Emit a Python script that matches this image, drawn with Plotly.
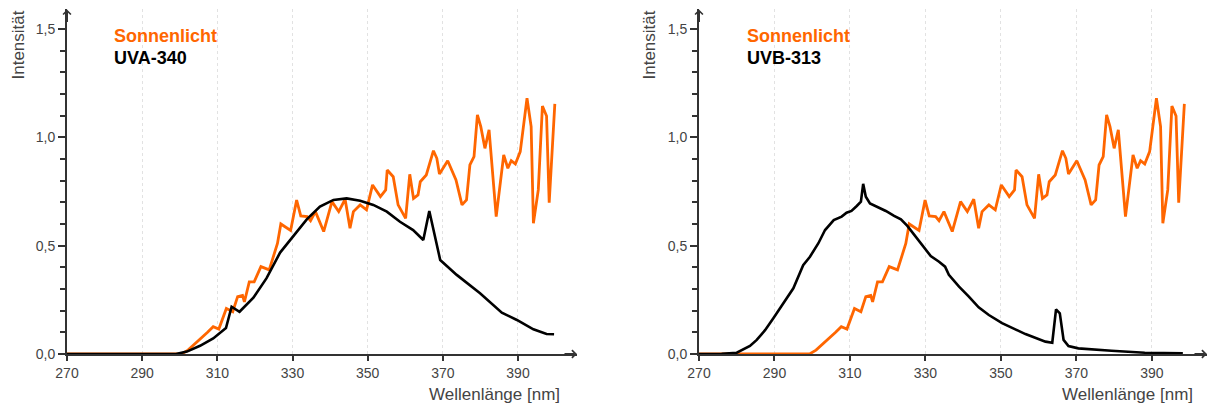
import plotly.graph_objects as go

# Sunlight spectrum as recorded alongside the UVB-313 lamp
sun_nm = [270, 299.3, 301.0, 302.8, 304.6, 306.2, 307.7, 309.2, 311.2, 312.9, 314.2,
          315.5, 316.0, 317.3, 318.6, 320.4, 322.6, 324.8, 325.7, 328.3, 329.9,
          331.0, 332.7, 333.6, 334.9, 337.1, 339.3, 341.1, 342.8, 344.1, 345.0,
          346.8, 348.5, 350.1, 352.2, 353.6, 354.0, 355.6, 356.9, 358.0, 358.9,
          360.0, 361.0, 362.2, 362.8, 364.4, 366.3, 367.2, 367.9, 370.1, 372.3,
          373.9, 375.1, 376.0, 377.1, 378.0, 378.9, 380.0, 381.1, 383.0, 385.0,
          386.1, 387.0, 388.1, 389.4, 391.2, 392.3, 392.9, 394.2, 395.3, 396.4,
          397.1, 398.6]
# Same sunlight spectrum as recorded alongside the UVA-340 lamp
sun_nm_uva = [270, 300.5, 302.2, 304.0, 305.8, 307.4, 308.9, 310.4, 312.4, 314.1, 315.4,
              316.7, 317.2, 318.5, 319.8, 321.6, 323.8, 326.0, 326.9, 329.5, 331.1,
              332.2, 333.9, 334.8, 336.1, 338.3, 340.5, 342.3, 344.0, 345.3, 346.2,
              348.0, 349.7, 351.3, 353.4, 354.8, 355.2, 356.8, 358.1, 359.2, 360.1,
              361.2, 362.2, 363.4, 364.0, 365.6, 367.5, 368.4, 369.1, 371.3, 373.5,
              375.1, 376.3, 377.2, 378.3, 379.2, 380.1, 381.2, 382.3, 384.2, 386.2,
              387.3, 388.2, 389.3, 390.6, 392.4, 393.5, 394.1, 395.4, 396.5, 397.6,
              398.3, 399.8]
sun_int = [0, 0, 0.018, 0.045, 0.072, 0.100, 0.126, 0.115, 0.210, 0.195, 0.265,
           0.270, 0.240, 0.333, 0.333, 0.403, 0.388, 0.510, 0.600, 0.570, 0.710,
           0.637, 0.634, 0.615, 0.657, 0.565, 0.703, 0.657, 0.714, 0.580, 0.657,
           0.688, 0.665, 0.780, 0.726, 0.757, 0.849, 0.818, 0.688, 0.657, 0.626,
           0.829, 0.718, 0.734, 0.795, 0.826, 0.938, 0.903, 0.831, 0.892, 0.803,
           0.688, 0.711, 0.872, 0.911, 1.103, 1.049, 0.949, 1.034, 0.634, 0.918,
           0.857, 0.892, 0.877, 0.934, 1.180, 1.049, 0.603, 0.757, 1.144, 1.098,
           0.698, 1.154]

# UVA-340 lamp
uva_nm = [270, 299.0, 301.9, 305.4, 308.9, 312.3, 313.8, 315.9, 319.6, 323.1, 326.7,
          330.2, 333.8, 337.3, 340.9, 344.4, 348.0, 351.5, 355.1, 358.6, 362.1,
          364.8, 366.4, 369.3, 373.7, 379.9, 385.7, 389.7, 394.1, 397.6, 399.6]
uva_int = [0, 0, 0.011, 0.038, 0.072, 0.120, 0.218, 0.195, 0.260, 0.350, 0.468,
           0.543, 0.621, 0.680, 0.711, 0.718, 0.707, 0.688, 0.657, 0.610, 0.572,
           0.526, 0.660, 0.434, 0.365, 0.280, 0.191, 0.157, 0.114, 0.092, 0.091]

# UVB-313 lamp
uvb_nm = [270, 276.0, 280.0, 283.5, 285.3, 287.5, 289.7, 292.3, 295.0, 297.6, 299.4,
          301.6, 303.4, 305.7, 307.8, 309.1, 310.4, 311.8, 312.9, 313.5, 314.2,
          315.3, 317.3, 319.5, 321.7, 323.5, 325.2, 327.5, 329.6, 331.4, 333.6,
          335.2, 336.2, 338.9, 341.5, 344.1, 346.8, 350.3, 356.5, 361.8, 363.6,
          364.6, 365.6, 366.6, 367.9, 370.5, 379.3, 388.1, 398.2]
uvb_int = [0, 0.001, 0.006, 0.037, 0.065, 0.110, 0.165, 0.233, 0.303, 0.410, 0.449,
           0.510, 0.572, 0.618, 0.634, 0.652, 0.660, 0.683, 0.703, 0.785, 0.726,
           0.695, 0.680, 0.660, 0.637, 0.621, 0.591, 0.541, 0.495, 0.452, 0.426,
           0.403, 0.365, 0.311, 0.265, 0.215, 0.180, 0.142, 0.092, 0.057, 0.052,
           0.206, 0.188, 0.065, 0.037, 0.026, 0.015, 0.006, 0.003]

x_ticks = [270, 290, 310, 330, 350, 370, 390]
y_ticks = [0.0, 0.5, 1.0, 1.5]
y_tick_labels = ["0,0", "0,5", "1,0", "1,5"]

W, H = 1208, 405
ORANGE = "#FF6600"
AXIS = "#333333"
TXT = "#444444"
FONT = "Liberation Sans, Arial, sans-serif"


def px_x(p):
    return p / W


def px_y(p):
    return 1 - p / H


panels = [
    dict(sun_nm=sun_nm_uva, lamp_nm=uva_nm, lamp_int=uva_int, lamp_name="UVA-340",
         left=67, right=577, xmax=405.7, xa="x", ya="y"),
    dict(sun_nm=sun_nm, lamp_nm=uvb_nm, lamp_int=uvb_int, lamp_name="UVB-313",
         left=699, right=1207, xmax=404.6, xa="x2", ya="y2"),
]

Y_BOTTOM, Y_TOP = 354, 9.4
Y_MAX = 1.59

fig = go.Figure()
annotations = []
layout_axes = {}

for i, p in enumerate(panels):
    fig.add_trace(go.Scatter(x=p["sun_nm"], y=sun_int, mode="lines", name="Sonnenlicht",
                             line=dict(color=ORANGE, width=2.8),
                             xaxis=p["xa"], yaxis=p["ya"], showlegend=False))
    fig.add_trace(go.Scatter(x=p["lamp_nm"], y=p["lamp_int"], mode="lines",
                             name=p["lamp_name"], line=dict(color="#000000", width=2.6),
                             xaxis=p["xa"], yaxis=p["ya"], showlegend=False))

    xkey = "xaxis" if i == 0 else "xaxis2"
    ykey = "yaxis" if i == 0 else "yaxis2"
    layout_axes[xkey] = dict(
        domain=[px_x(p["left"]), px_x(p["right"])], range=[270, p["xmax"]],
        anchor=p["ya"], tickmode="array", tickvals=x_ticks,
        ticks="outside", ticklen=5, tickwidth=1.5, tickcolor=AXIS,
        showline=True, linecolor=AXIS, linewidth=2,
        showgrid=True, gridcolor="#e2e2e2", griddash="dot", gridwidth=1,
        zeroline=False, tickfont=dict(size=14, color=TXT, family=FONT),
        layer="below traces", fixedrange=True, automargin=False,
    )
    layout_axes[ykey] = dict(
        domain=[px_y(Y_BOTTOM), px_y(Y_TOP)], range=[0, Y_MAX],
        anchor=p["xa"], tickmode="array", tickvals=y_ticks, ticktext=y_tick_labels,
        ticks="outside", ticklen=7, tickwidth=1.5, tickcolor=AXIS,
        minor=dict(tickmode="linear", tick0=0, dtick=0.1, ticks="outside",
                   ticklen=5, tickwidth=1.5, tickcolor=AXIS, showgrid=False),
        showline=True, linecolor=AXIS, linewidth=2, showgrid=False,
        zeroline=False, tickfont=dict(size=14, color=TXT, family=FONT),
        layer="below traces", fixedrange=True, automargin=False,
    )

    # arrowheads at the ends of both axes
    annotations.append(dict(x=p["xmax"], y=0, xref=p["xa"], yref=p["ya"], text="",
                            showarrow=True, ax=-14, ay=0, arrowhead=4, arrowsize=0.75,
                            arrowwidth=2, arrowcolor=AXIS))
    annotations.append(dict(x=270, y=Y_MAX, xref=p["xa"], yref=p["ya"], text="",
                            showarrow=True, ax=0, ay=14, arrowhead=4, arrowsize=0.75,
                            arrowwidth=2, arrowcolor=AXIS))

    # series labels
    lx = p["left"] + 45 if i == 0 else p["left"] + 46
    annotations.append(dict(x=px_x(lx), y=px_y(35.5), xref="paper", yref="paper",
                            text="<b>Sonnenlicht</b>", showarrow=False,
                            xanchor="left", yanchor="middle",
                            font=dict(size=18, color=ORANGE, family=FONT)))
    annotations.append(dict(x=px_x(lx), y=px_y(58.5), xref="paper", yref="paper",
                            text="<b>" + p["lamp_name"] + "</b>", showarrow=False,
                            xanchor="left", yanchor="middle",
                            font=dict(size=18, color="#000000", family=FONT)))

    # axis titles
    ytx = 17.5 if i == 0 else 648.5
    annotations.append(dict(x=px_x(ytx), y=px_y(45), xref="paper", yref="paper",
                            text="Intensität", textangle=-90, showarrow=False,
                            xanchor="center", yanchor="middle",
                            font=dict(size=17, color=TXT, family=FONT)))
    xtr = 562 if i == 0 else 1195
    annotations.append(dict(x=px_x(xtr), y=px_y(394), xref="paper", yref="paper",
                            text="Wellenlänge [nm]", showarrow=False,
                            xanchor="right", yanchor="middle",
                            font=dict(size=17, color=TXT, family=FONT)))

fig.update_layout(
    width=W, height=H, margin=dict(l=0, r=0, t=0, b=0, autoexpand=False),
    paper_bgcolor="white", plot_bgcolor="white",
    annotations=annotations, showlegend=False,
    font=dict(family=FONT),
    **layout_axes,
)

fig.write_html("out.html", config={"displayModeBar": False})
